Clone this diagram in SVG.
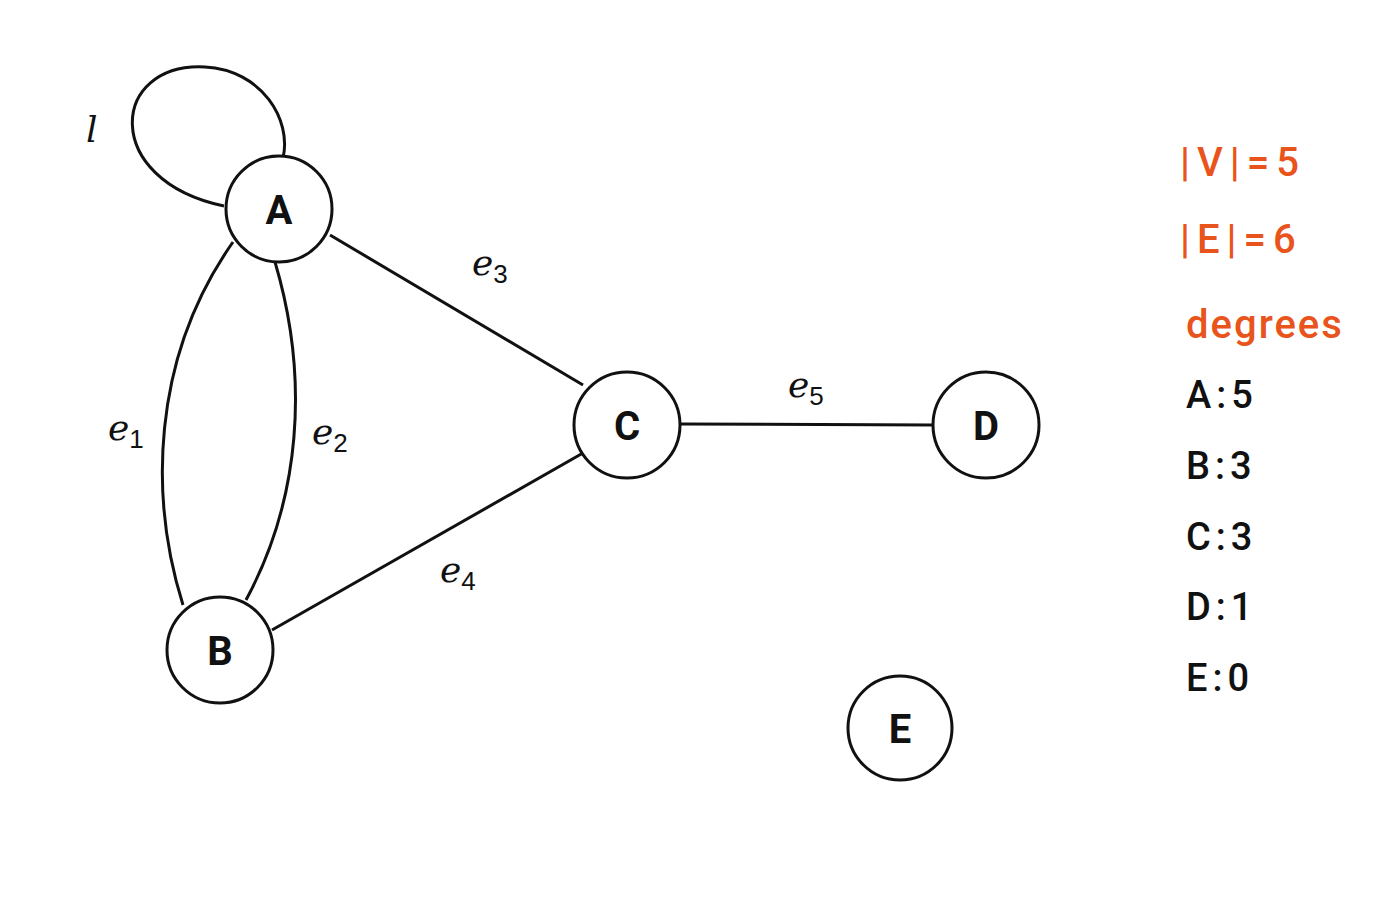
<svg xmlns="http://www.w3.org/2000/svg" width="1400" height="900" viewBox="0 0 1400 900">
<style>
.n{fill:#fff;stroke:#111;stroke-width:3}
.nl{font-family:Roboto,"Liberation Sans",sans-serif;font-weight:bold;font-size:40px;fill:#111;text-anchor:middle}
.e{fill:none;stroke:#111;stroke-width:3}
.el{font-family:"DejaVu Serif","Liberation Serif",serif;font-style:italic;font-size:36px;fill:#111}
.sub{font-style:normal;font-family:"Liberation Sans",sans-serif;font-size:26px}
.o{font-family:Roboto,"Liberation Sans",sans-serif;font-size:40px;fill:#e8541c;font-weight:500;letter-spacing:7px}
.d{font-family:Roboto,"Liberation Sans",sans-serif;font-size:38px;fill:#111;font-weight:500;letter-spacing:5px}
</style>
<rect width="1400" height="900" fill="#fff"/>
<g id="edges">
<path class="e" d="M224,206 C100,180 110,62 205,67 C262,70 292,120 283,158"/>
<path class="e" d="M233,242 C150,360 150,500 183,605"/>
<path class="e" d="M275,262 C310,380 300,500 246,600"/>
<line class="e" x1="330" y1="235" x2="583" y2="385"/>
<line class="e" x1="272" y1="630" x2="583" y2="453"/>
<line class="e" x1="680" y1="424" x2="933" y2="425"/>
</g>
<g id="edge-labels">
<text class="el" x="86" y="142">l</text>
<text class="el" x="108" y="440">e<tspan class="sub" dy="8">1</tspan></text>
<text class="el" x="312" y="444">e<tspan class="sub" dy="8">2</tspan></text>
<text class="el" x="472" y="275">e<tspan class="sub" dy="8">3</tspan></text>
<text class="el" x="440" y="582">e<tspan class="sub" dy="8">4</tspan></text>
<text class="el" x="788" y="397">e<tspan class="sub" dy="8">5</tspan></text>
</g>
<g id="node-A"><circle class="n" cx="279" cy="209" r="53"/><text class="nl" x="279" y="224">A</text></g>
<g id="node-B"><circle class="n" cx="220" cy="650" r="53"/><text class="nl" x="220" y="665">B</text></g>
<g id="node-C"><circle class="n" cx="627" cy="425" r="53"/><text class="nl" x="627" y="440">C</text></g>
<g id="node-D"><circle class="n" cx="986" cy="425" r="53"/><text class="nl" x="986" y="440">D</text></g>
<g id="node-E"><circle class="n" cx="900" cy="728" r="52"/><text class="nl" x="900" y="743">E</text></g>
<g id="legend">
<text class="o" x="1180" y="176">|V|=5</text>
<text class="o" x="1180" y="253">|E|=6</text>
<text class="o" x="1186" y="338" font-weight="bold" style="letter-spacing:2px">degrees</text>
<text class="d" x="1186" y="408">A:5</text>
<text class="d" x="1186" y="479">B:3</text>
<text class="d" x="1186" y="550">C:3</text>
<text class="d" x="1186" y="620">D:1</text>
<text class="d" x="1186" y="691">E:0</text>
</g>
</svg>
